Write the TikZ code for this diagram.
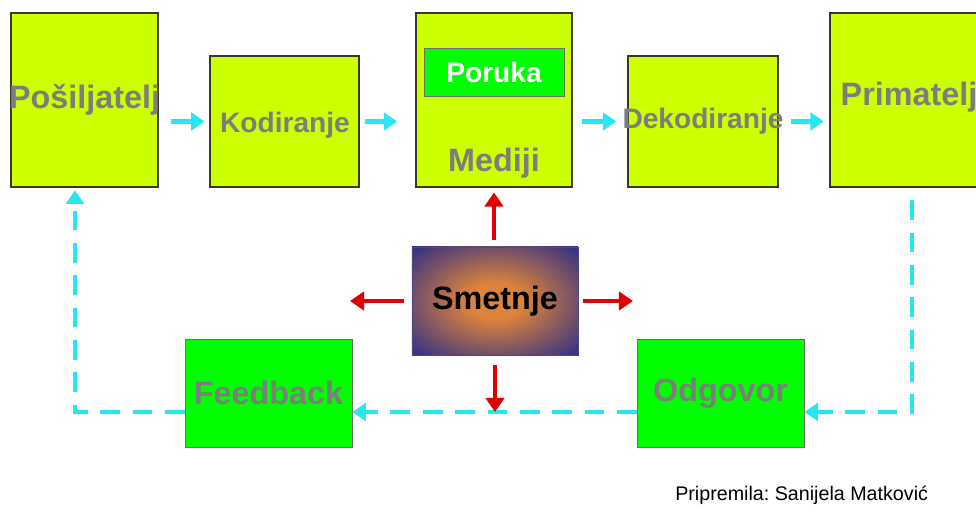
\documentclass[tikz,border=0pt]{standalone}
\usepackage{fontspec}
\setmainfont{Liberation Sans}
\usetikzlibrary{arrows.meta}
\definecolor{limefill}{RGB}{204,255,0}
\definecolor{limeedge}{RGB}{60,55,40}
\definecolor{greenfill}{RGB}{0,255,0}
\definecolor{greenedge}{RGB}{110,110,110}
\definecolor{labelgray}{RGB}{125,125,125}
\definecolor{flowcyan}{RGB}{40,230,240}
\definecolor{noisered}{RGB}{225,0,0}
\definecolor{noiseorange}{RGB}{222,132,58}
\definecolor{noiseblue}{RGB}{55,50,130}
\pgfdeclareradialshading{noiseshade}{\pgfpoint{0bp}{0bp}}{color(0bp)=(noiseorange); color(8bp)=(noiseorange); color(34bp)=(noiseblue); color(50bp)=(noiseblue)}

\begin{document}
\begin{tikzpicture}
		[x=0.025cm, y=-0.025cm,
			yblock/.style ={rectangle, draw=limeedge, line width=0.8pt, fill=limefill},
 gblock/.style ={rectangle, draw=greenedge, line width=0.6pt, fill=greenfill},
 ytext/.style ={text=labelgray, font=\bfseries\fontsize{23}{27}\selectfont},
 ktext/.style ={text=labelgray, font=\bfseries\fontsize{20}{24}\selectfont},
 noisebox/.style ={rectangle, draw=noiseblue!70!gray, line width=0.6pt, shading=noiseshade, font=\bfseries\fontsize{23}{27}\selectfont},
 flow/.style ={draw=flowcyan, line width=3.5pt, -{Triangle[length=9.5pt,width=12.5pt]}},
 fback/.style ={flow, dash pattern=on 14pt off 9pt},
 noise/.style ={draw=noisered, line width=2.8pt, -{Triangle[length=10pt,width=13pt]}},
 credit/.style ={font=\frenchspacing\fontsize{14}{17}\selectfont}]
		\clip (0,0) rectangle (976,530);
%		% top row
		\node[yblock, minimum width=3.675cm, minimum height=4.35cm, label={[ytext]center:Pošiljatelj}] (posiljatelj) at (84.5,100) {};
		\node[yblock, minimum width=3.725cm, minimum height=3.275cm] (kodiranje) at (284.5,121.5) {};
		\node[ktext] (kodtxt) at (285,125) {Kodiranje};
		\node[yblock, minimum width=3.9cm, minimum height=4.35cm] (mediji) at (494,100) {};
		\node[gblock, minimum width=3.5cm, minimum height=1.2cm, text=white, font=\bfseries\fontsize{20}{24}\selectfont] (poruka) at (494,72) {Poruka};
		\node[ytext] (medtxt) at (494,163) {Mediji};
		\node[yblock, minimum width=3.75cm, minimum height=3.275cm, label={[ktext]center:Dekodiranje}] (dekodiranje) at (703,121.5) {};
		\node[yblock, minimum width=4.1cm, minimum height=4.35cm] (primatelj) at (912,100) {};
		\node[ytext] (primtxt) at (909,97) {Primatelj};
%		% middle and bottom
		\node[noisebox, minimum width=4.15cm, minimum height=2.7cm] (smetnje) at (495,301) {Smetnje};
		\node[gblock, minimum width=4.175cm, minimum height=2.7cm, label={[ytext]center:Feedback}] (feedback) at (268.5,393) {};
		\node[gblock, minimum width=4.175cm, minimum height=2.7cm, label={[ytext]center:Odgovor}] (odgovor) at (720.5,393) {};
		\node[credit, anchor=east] (autor) at (933,495) {Pripremila: Sanijela Matković};
%		% message flow
		\draw[flow, shorten <=9pt, shorten >=3.5pt] (posiljatelj.east |- kodiranje.center) -- (kodiranje.west);
		\draw[flow, shorten <=4pt, shorten >=13pt] (kodiranje.east) -- (mediji.west |- kodiranje.center);
		\draw[flow, shorten <=6.5pt, shorten >=8pt] (mediji.east |- dekodiranje.center) -- (dekodiranje.west);
		\draw[flow, shorten <=8.5pt, shorten >=4pt] (dekodiranje.east) -- (primatelj.west |- dekodiranje.center);
%		% feedback loop
		\coordinate (loopR) at (912,412);
		\coordinate (loopL) at (75,412);
		\draw[fback, shorten <=9pt] (primatelj.south) -- (loopR) -- (odgovor.east |- loopR);
		\draw[fback] (odgovor.west |- loopR) -- (feedback.east |- loopR);
		\draw[fback, shorten >=2pt] (feedback.west |- loopR) -- (loopL) -- (loopL |- posiljatelj.south);
%		% noise
		\coordinate (smL) at (350,301);
		\coordinate (smR) at (633,301);
		\draw[noise, shorten <=5pt, shorten >=3.5pt] (mediji.south |- smetnje.north) -- (mediji.south);
		\draw[noise, shorten <=5.5pt] (smetnje.west) -- (smL);
		\draw[noise, shorten <=3.5pt] (smetnje.east) -- (smR);
		\draw[noise, shorten <=7pt] (smetnje.south) -- (smetnje.south |- loopR);
	\end{tikzpicture}
\end{document}
